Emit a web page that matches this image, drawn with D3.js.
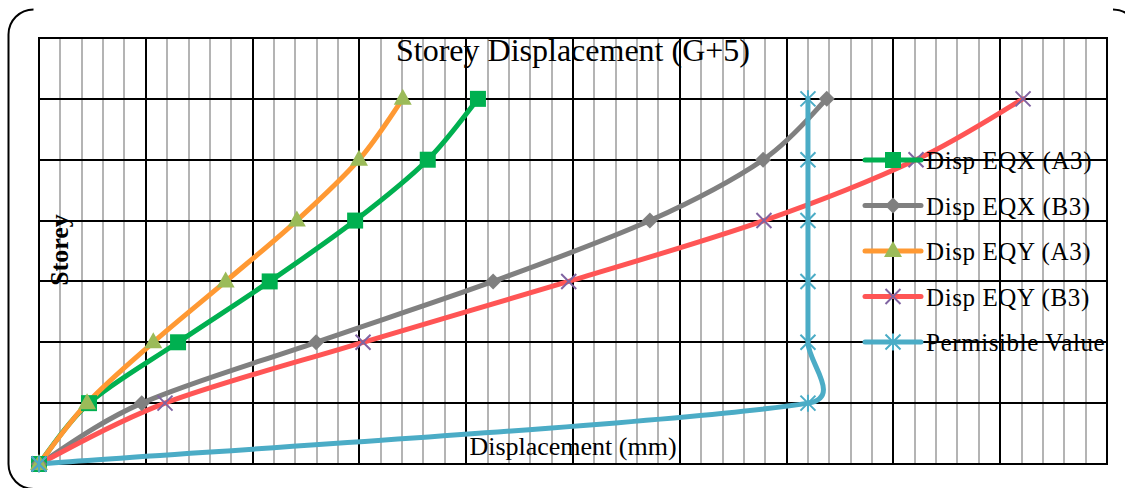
<!DOCTYPE html>
<html><head><meta charset="utf-8">
<script src="https://cdn.jsdelivr.net/npm/d3@7"></script>
<style>body{margin:0;background:#fff}svg{display:block;font-family:"Liberation Serif","Times New Roman",serif}</style>
</head><body><svg id="c" width="1125" height="488"></svg>
<script>
// ---- data ----
const storeys = [0, 1, 2, 3, 4, 5, 6];
const dispEqxA3 = [0, 2.34, 6.51, 10.8, 14.8, 18.2, 20.55];
const dispEqxB3 = [0, 4.81, 12.97, 21.26, 28.6, 33.9, 36.88];
const dispEqyA3 = [0, 2.25, 5.35, 8.74, 12.07, 14.98, 17.03];
const dispEqyB3 = [0, 5.9, 15.17, 24.8, 33.94, 41.06, 46.07];
const permisible = [0, 36, 36, 36, 36, 36, 36];
const seriesNames = ["Disp EQX (A3)", "Disp EQX (B3)", "Disp EQY (A3)", "Disp EQY (B3)", "Permisible Value"];
const xMajorTicks = d3.range(0, 51, 5);
const xMinorTicks = d3.range(1, 50, 1).filter(v => v % 5 !== 0);
const yTicks = d3.range(0, 8, 1);

const series = [
  {name: seriesNames[0], values: dispEqxA3, line: "#00B050", marker: "square", mfill: "#00B050"},
  {name: seriesNames[1], values: dispEqxB3, line: "#808080", marker: "diamond", mfill: "#808080"},
  {name: seriesNames[2], values: dispEqyA3, line: "#FF9933", marker: "triangle", mfill: "#9BBB59"},
  {name: seriesNames[3], values: dispEqyB3, line: "#FF5555", marker: "x", mfill: "#8064A2"},
  {name: seriesNames[4], values: permisible, line: "#4BACC6", marker: "star", mfill: "#4BACC6"}
];

const L = 39, R = 1107, T = 38, B = 464;
const svg = d3.select("#c");
const x = d3.scaleLinear().domain([0, 50]).range([L, R]);
const y = d3.scaleLinear().domain([0, 7]).range([B, T]);

// outer rounded frame (partially visible)
svg.append("path")
  .attr("d", "M33.5,9.5 A25,25 0 0 0 8.5,34.5 L8.5,464 A25,25 0 0 0 33.5,489 L1113,489")
  .attr("fill", "none").attr("stroke", "#000").attr("stroke-width", 2);
svg.append("path")
  .attr("d", "M1113,9.5 A25,25 0 0 1 1138,34.5")
  .attr("fill", "none").attr("stroke", "#000").attr("stroke-width", 2);

// minor vertical grid
svg.append("g").selectAll("line").data(xMinorTicks).join("line")
  .attr("x1", d => Math.round(x(d))).attr("x2", d => Math.round(x(d)))
  .attr("y1", T).attr("y2", B)
  .attr("stroke", "#b4b4b4").attr("stroke-width", 2);

// major vertical grid
svg.append("g").selectAll("line").data(xMajorTicks).join("line")
  .attr("x1", d => Math.round(x(d))).attr("x2", d => Math.round(x(d)))
  .attr("y1", T).attr("y2", B)
  .attr("stroke", "#000").attr("stroke-width", 2);

// horizontal grid
svg.append("g").selectAll("line").data(yTicks).join("line")
  .attr("x1", L).attr("x2", R)
  .attr("y1", d => Math.round(y(d))).attr("y2", d => Math.round(y(d)))
  .attr("stroke", "#000").attr("stroke-width", 2);

svg.append("rect").attr("x", L).attr("y", T).attr("width", R - L).attr("height", B - T)
  .attr("fill", "none").attr("stroke", "#000").attr("stroke-width", 2);

// titles
svg.append("text").attr("x", (L + R) / 2).attr("y", 61).attr("text-anchor", "middle")
  .attr("font-size", 32).text("Storey Displacement (G+5)");
svg.append("text").attr("x", (L + R) / 2).attr("y", 455).attr("text-anchor", "middle")
  .attr("font-size", 26).text("Displacement (mm)");
svg.append("text").attr("transform", "translate(68,250) rotate(-90)").attr("text-anchor", "middle")
  .attr("font-size", 26).attr("font-weight", "bold").text("Storey");

function marker(g, type, color, cx, cy) {
  if (type === "square") {
    g.append("rect").attr("x", cx - 8).attr("y", cy - 8).attr("width", 16).attr("height", 16).attr("fill", color);
  } else if (type === "diamond") {
    g.append("path").attr("d", `M${cx},${cy - 8}L${cx + 8},${cy}L${cx},${cy + 8}L${cx - 8},${cy}Z`).attr("fill", color);
  } else if (type === "triangle") {
    g.append("path").attr("d", `M${cx},${cy - 10}L${cx + 9},${cy + 6}L${cx - 9},${cy + 6}Z`).attr("fill", color);
  } else if (type === "x") {
    const s = 7.5;
    g.append("path").attr("d", `M${cx - s},${cy - s}L${cx + s},${cy + s}M${cx - s},${cy + s}L${cx + s},${cy - s}`)
      .attr("stroke", color).attr("stroke-width", 2).attr("fill", "none");
  } else if (type === "star") {
    const s = 7.5;
    g.append("path").attr("d", `M${cx - s},${cy - s}L${cx + s},${cy + s}M${cx - s},${cy + s}L${cx + s},${cy - s}M${cx},${cy - s - 1}L${cx},${cy + s + 1}`)
      .attr("stroke", color).attr("stroke-width", 2).attr("fill", "none");
  }
}

// Excel-like smoothing: Bezier with 1/6 tangents, limited by segment length
function excelCurve(context) {
  let pts = [];
  return {
    lineStart() { pts = []; },
    lineEnd() {
      const n = pts.length;
      if (!n) return;
      context.moveTo(pts[0][0], pts[0][1]);
      for (let i = 0; i < n - 1; i++) {
        const p0 = pts[Math.max(i - 1, 0)], p1 = pts[i], p2 = pts[i + 1], p3 = pts[Math.min(i + 2, n - 1)];
        const seg = Math.hypot(p2[0] - p1[0], p2[1] - p1[1]);
        const lim = 0.58 * seg;
        const clamp = t => { const l = Math.hypot(t[0], t[1]); return l > lim ? [t[0] * lim / l, t[1] * lim / l] : t; };
        const t1 = clamp([(p2[0] - p0[0]) / 6, (p2[1] - p0[1]) / 6]);
        const t2 = clamp([(p3[0] - p1[0]) / 6, (p3[1] - p1[1]) / 6]);
        context.bezierCurveTo(p1[0] + t1[0], p1[1] + t1[1], p2[0] - t2[0], p2[1] - t2[1], p2[0], p2[1]);
      }
    },
    point(px, py) { pts.push([+px, +py]); },
    areaStart() {}, areaEnd() {}
  };
}

const line = d3.line().x(d => x(d[0])).y(d => y(d[1])).curve(excelCurve);
series.forEach(s => {
  const pts = s.values.map((v, i) => [v, storeys[i]]);
  svg.append("path").attr("d", line(pts)).attr("fill", "none").attr("stroke", s.line)
    .attr("stroke-width", 5).attr("stroke-linecap", "round").attr("stroke-linejoin", "round");
});
series.forEach(s => {
  const g = svg.append("g");
  s.values.forEach((v, i) => marker(g, s.marker, s.mfill, x(v), y(storeys[i])));
});

// legend
svg.append("clipPath").attr("id", "lc").append("rect").attr("x", 0).attr("y", 0).attr("width", R).attr("height", 488);
const leg = svg.append("g").attr("clip-path", "url(#lc)");
series.forEach((s, i) => {
  const ly = 160 + i * 45.5;
  leg.append("line").attr("x1", 865).attr("x2", 921).attr("y1", ly).attr("y2", ly)
    .attr("stroke", s.line).attr("stroke-width", 5).attr("stroke-linecap", "round");
  marker(leg, s.marker, s.mfill, 893, ly);
  leg.append("text").attr("x", 926).attr("y", ly + 9).attr("font-size", 25)
    .attr("letter-spacing", 0.6).text(s.name);
});
</script></body></html>
